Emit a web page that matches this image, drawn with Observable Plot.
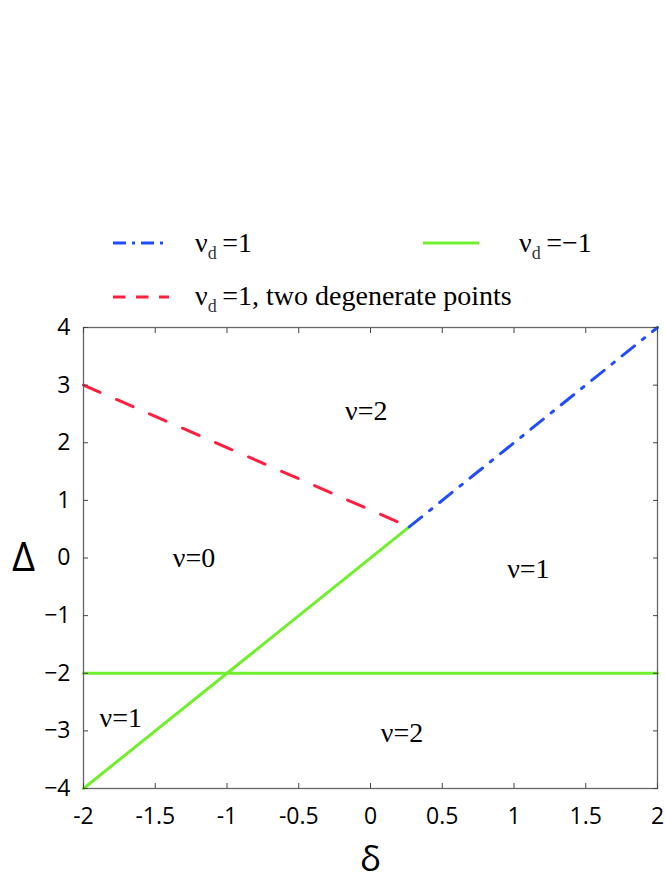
<!DOCTYPE html>
<html>
<head>
<meta charset="utf-8">
<script src="https://cdn.jsdelivr.net/npm/d3@7"></script>
<script src="https://cdn.jsdelivr.net/npm/@observablehq/plot@0.6"></script>
<style>
  html, body { margin: 0; padding: 0; background: #fff; }
  #wrap { position: relative; width: 665px; height: 881px; }
  #legend { position: absolute; left: 0; top: 0; pointer-events: none; }
</style>
</head>
<body>
<div id="wrap"></div>
<script>
// ---- data ----
const xTicks = [-2, -1.5, -1, -0.5, 0, 0.5, 1, 1.5, 2];
const yTicks = [-4, -3, -2, -1, 0, 1, 2, 3, 4];

// ν_d = -1 (green, solid)
const greenDiagDelta = [-2, 0.27];
const greenDiagGap   = [-4, 0.54];
const greenFlatDelta = [-2, 2];
const greenFlatGap   = [-2, -2];
// ν_d = 1 (blue, dash-dot)
const blueDelta = [0.27, 2];
const blueGap   = [0.54, 4];
// ν_d = 1, two degenerate points (red, dashed)
const redDelta = [-2, 0.27];
const redGap   = [3, 0.54];

// region labels
const regionText  = ["ν=2", "ν=0", "ν=1", "ν=1", "ν=2"];
const regionDelta = [-0.03, -1.23, 1.10, -1.74, 0.22];
const regionGap   = [2.55, 0.0, -0.2, -2.77, -3.03];

// legend
const legendNames  = ["=1", "=−1", "=1, two degenerate points"];
const legendColors = ["#1f4dff", "#70ef2c", "#ff1f3f"];
const legendDash   = ["13,6,3,6", null, "12.5,10.5"];

const GREEN = legendColors[1], BLUE = legendColors[0], RED = legendColors[2];

const pts = (xs, ys) => xs.map((x, i) => ({x, y: ys[i]}));
const fmtX = d => String(d);
const fmtY = d => d < 0 ? "\u2212" + (-d) : String(d);

const tickFont = "'Open Sans', sans-serif";
const serif = "'Liberation Serif', 'Times New Roman', serif";

const chart = Plot.plot({
  width: 665,
  height: 881,
  marginTop: 327,
  marginBottom: 93,
  marginLeft: 83,
  marginRight: 8,
  style: {background: "white", color: "black"},
  x: {domain: [-2, 2]},
  y: {domain: [-4, 4]},
  marks: [
    Plot.line(pts(greenDiagDelta, greenDiagGap), {x: "x", y: "y", stroke: GREEN, strokeWidth: 3}),
    Plot.line(pts(greenFlatDelta, greenFlatGap), {x: "x", y: "y", stroke: GREEN, strokeWidth: 3}),
    Plot.line(pts(redDelta, redGap), {x: "x", y: "y", stroke: RED, strokeWidth: 3, strokeDasharray: "18,18"}),
    Plot.line(pts(blueDelta, blueGap), {x: "x", y: "y", stroke: BLUE, strokeWidth: 3, strokeDasharray: "16,10,3,10"}),
    Plot.text(regionText.map((t, i) => ({t, x: regionDelta[i], y: regionGap[i]})),
      {x: "x", y: "y", text: "t", fontFamily: serif, fontSize: 28, fill: "black", textAnchor: "middle", lineAnchor: "middle"}),
    Plot.frame({stroke: "#666", strokeWidth: 1.3}),
    Plot.axisX(xTicks, {anchor: "bottom", tickSize: -5, tickPadding: 24, tickFormat: fmtX, fontSize: 23, fontFamily: tickFont, label: null, stroke: "#444"}),
    Plot.axisX(xTicks, {anchor: "top", tickSize: -5, tickFormat: () => "", label: null, stroke: "#444"}),
    Plot.axisY(yTicks, {anchor: "left", tickSize: -5, tickPadding: 18, tickFormat: fmtY, fontSize: 23, fontFamily: tickFont, label: null, stroke: "#444"}),
    Plot.axisY(yTicks, {anchor: "right", tickSize: -5, tickFormat: () => "", label: null, stroke: "#444"}),
    Plot.text(["δ"], {frameAnchor: "bottom", dy: 71, fontSize: 35, fontFamily: tickFont, textAnchor: "middle", lineAnchor: "middle", fill: "black"}),
    Plot.text(["Δ"], {frameAnchor: "left", dx: -60, fontSize: 40, fontFamily: tickFont, textAnchor: "middle", lineAnchor: "middle", fill: "black"})
  ]
});

const wrap = document.getElementById("wrap");
wrap.appendChild(chart);

// ---- legend (above the plot area) ----
const lg = d3.select(wrap).append("svg")
  .attr("id", "legend").attr("width", 665).attr("height", 320);

const slots = [
  {x1: 113, x2: 169, ly: 243, tx: 195, ty: 252},
  {x1: 423, x2: 479, ly: 243, tx: 519, ty: 252},
  {x1: 113, x2: 169, ly: 297, tx: 195, ty: 305}
];
legendNames.forEach((name, i) => {
  const s = slots[i];
  const ln = lg.append("line")
    .attr("x1", s.x1).attr("x2", s.x2).attr("y1", s.ly).attr("y2", s.ly)
    .attr("stroke", legendColors[i]).attr("stroke-width", 3);
  if (legendDash[i]) ln.attr("stroke-dasharray", legendDash[i]);
  const t = lg.append("text").attr("x", s.tx).attr("y", s.ty)
    .attr("font-family", serif).attr("font-size", 28).attr("fill", "black");
  t.append("tspan").text("ν");
  t.append("tspan").attr("font-size", 18).attr("dy", 7).attr("fill", "#333").text("d");
  t.append("tspan").attr("dy", -7).text("\u2009" + name);
});
</script>
</body>
</html>
